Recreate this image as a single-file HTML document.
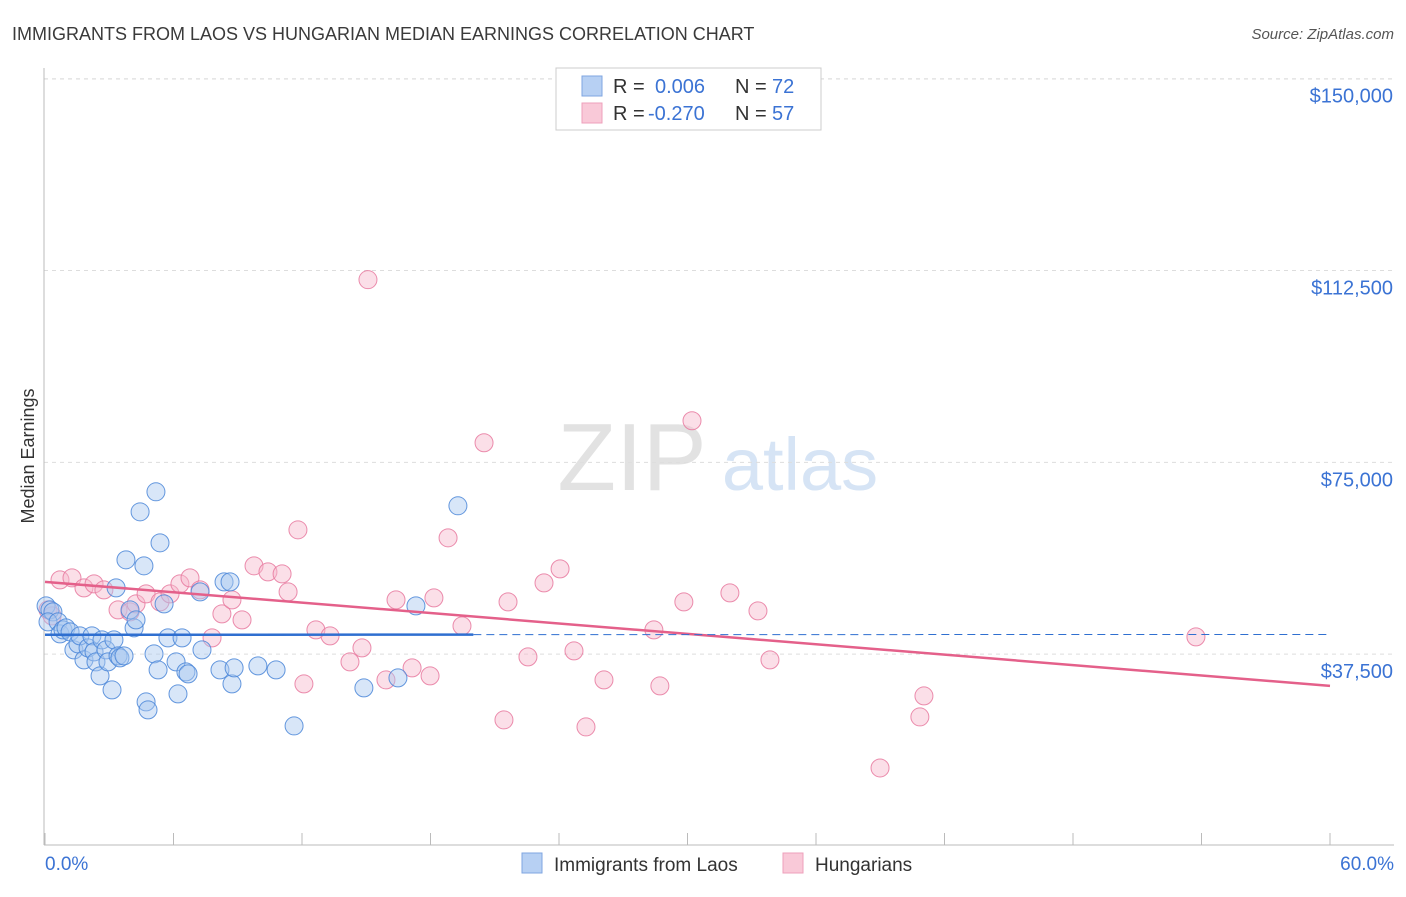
<!DOCTYPE html>
<html><head><meta charset="utf-8"><style>
body{margin:0;background:#fff;font-family:"Liberation Sans",sans-serif}
svg text{font-family:"Liberation Sans",sans-serif}
</style></head><body>
<svg id="chart" width="1406" height="892" xmlns="http://www.w3.org/2000/svg">
<text x="12" y="40" font-size="18" fill="#3a3a3a">IMMIGRANTS FROM LAOS VS HUNGARIAN MEDIAN EARNINGS CORRELATION CHART</text>
<text x="1394" y="39" font-size="15" fill="#555" text-anchor="end" font-style="italic">Source: ZipAtlas.com</text>
<g>
<text x="632" y="490" font-size="96" fill="#e2e2e2" font-family="Liberation Serif" text-anchor="middle">ZIP</text>
<text x="800" y="490" font-size="74" fill="#d6e4f5" text-anchor="middle">atlas</text>
</g>
<g id="grid"></g>
<line x1="44" y1="68" x2="44" y2="845" stroke="#bbb"/>
<line x1="44" y1="845" x2="1394" y2="845" stroke="#bbb"/>
<text x="34" y="456" font-size="18" fill="#333" text-anchor="middle" transform="rotate(-90 34 456)">Median Earnings</text>
<text x="45" y="870" font-size="19" fill="#3b73d4">0.0%</text>
<text x="1394" y="870" font-size="19" fill="#3b73d4" text-anchor="end">60.0%</text>
<g id="marks"></g>
<g>
<rect x="556" y="68" width="265" height="62" fill="#fff" stroke="#ccc"/>
<rect x="582" y="76" width="20" height="20" fill="#b7d0f3" stroke="#7fa6e0"/>
<rect x="582" y="103" width="20" height="20" fill="#f9c9d8" stroke="#eea0bb"/>
<text x="613" y="93" font-size="20" fill="#333">R = </text><text x="655" y="93" font-size="20" fill="#3b73d4">0.006</text>
<text x="735" y="93" font-size="20" fill="#333">N = </text><text x="772" y="93" font-size="20" fill="#3b73d4">72</text>
<text x="613" y="120" font-size="20" fill="#333">R = </text><text x="648" y="120" font-size="20" fill="#3b73d4">-0.270</text>
<text x="735" y="120" font-size="20" fill="#333">N = </text><text x="772" y="120" font-size="20" fill="#3b73d4">57</text>
</g>
<g>
<rect x="522" y="853" width="20" height="20" fill="#b7d0f3" stroke="#7fa6e0"/>
<text x="554" y="871" font-size="19" fill="#333">Immigrants from Laos</text>
<rect x="783" y="853" width="20" height="20" fill="#f9c9d8" stroke="#eea0bb"/>
<text x="815" y="871" font-size="19" fill="#333">Hungarians</text>
</g>
</svg>
<script>
const yTicks=[37500,75000,112500,150000];
const yTickLabels=["$37,500","$75,000","$112,500","$150,000"];
const xTicks=[0,6,12,18,24,30,36,42,48,54,60];
const laosX=[0.05,0.23,0.37,0.14,0.61,0.70,0.84,0.98,1.17,1.35,1.54,1.63,1.82,2.01,2.19,2.29,2.38,2.57,2.66,2.85,2.94,3.13,3.22,3.32,3.41,3.50,3.69,3.78,3.97,4.16,4.25,4.44,4.62,4.72,4.81,5.09,5.18,5.28,5.37,5.56,5.74,6.12,6.21,6.40,6.58,6.68,7.24,7.33,8.17,8.36,8.64,8.73,8.83,9.94,10.79,11.63,14.89,16.48,17.32,19.28];
const laosY=[46944,46162,45771,43815,43815,41468,42250,42641,41858,38338,39511,41076,36382,38729,41076,37946,35990,33252,40294,38338,35990,30514,40294,50465,37164,36773,37164,55942,46162,42641,44206,65330,54768,28166,26602,37555,69242,34426,59267,47335,40685,35990,29731,40685,34034,33643,49682,38338,34426,51638,51638,31687,34817,35208,34426,23472,30905,32861,46944,66504];
const hunX=[0.14,0.33,0.70,1.26,1.82,2.29,2.75,3.41,3.97,4.25,4.72,5.37,5.84,6.30,6.77,7.24,7.80,8.26,8.73,9.20,9.76,10.41,11.07,11.35,11.81,12.09,12.65,13.31,14.24,14.80,15.08,15.92,16.39,17.14,17.98,18.16,18.82,19.47,20.50,21.43,21.62,22.55,23.30,24.05,24.70,25.26,26.10,28.43,28.71,29.83,30.21,31.98,33.29,33.85,38.99,40.85,41.04,53.74];
const hunY=[46162,44989,52030,52421,50465,51247,50074,46162,45771,47335,49291,47726,49291,51247,52421,50074,40685,45379,48118,44206,54768,53594,53203,49682,61810,31687,42250,41076,35990,38729,110710,32470,48118,34817,33252,48509,60245,43032,78827,24646,47726,36968,51443,54181,38142,23276,32470,42250,31296,47726,83130,49487,45966,36382,15257,25232,29340,40880];
const laosTrend=[41300,41350];
const hunTrend=[51640,31300];
const NS='http://www.w3.org/2000/svg';
const xs=v=>45+v/60*1285;
const ys=v=>846-v/150000*767.3;
function mk(tag,attrs,parent){const e=document.createElementNS(NS,tag);for(const k in attrs)e.setAttribute(k,attrs[k]);parent.appendChild(e);return e;}
const grid=document.getElementById('grid'),marks=document.getElementById('marks');
yTicks.forEach((t,i)=>{
 const l=mk('line',{x1:44,x2:1394,y1:ys(t),y2:ys(t),stroke:'#ddd','stroke-dasharray':'4,4'},grid);
 
 
 const tx=mk('text',{x:1393,y:ys(t)+24,'font-size':20,fill:'#3b73d4','text-anchor':'end'},grid);
 tx.textContent=yTickLabels[i];
 
 
});
const topGrid=mk('line',{x1:44,x2:1394,y1:79,y2:79,stroke:'#ddd','stroke-dasharray':'4,4'},grid);


xTicks.forEach(t=>{
 const l=mk('line',{x1:xs(t),x2:xs(t),y1:833,y2:845,stroke:'#bbb'},grid);
 
 
});
function dot(x,y,fill,stroke,name){
 const c=mk('circle',{cx:xs(x),cy:ys(y),r:9,fill:fill,'fill-opacity':0.45,stroke:stroke,'stroke-width':1,'stroke-opacity':0.85},marks);
 
 
}
hunX.forEach((x,i)=>dot(x,hunY[i],'#f6b8cc','#e8799f','hungarian-point'));
laosX.forEach((x,i)=>dot(x,laosY[i],'#a9c8f0','#4a86d8','laos-point'));
const pl=mk('line',{x1:xs(0),y1:ys(hunTrend[0]),x2:xs(60),y2:ys(hunTrend[1]),stroke:'#e4608a','stroke-width':2.5},marks);


const lm=v=>laosTrend[0]+(laosTrend[1]-laosTrend[0])*v/60;
const bl=mk('line',{x1:xs(0),y1:ys(lm(0)),x2:xs(20),y2:ys(lm(20)),stroke:'#2f6fd0','stroke-width':2.5},marks);


const bd=mk('line',{x1:xs(20),y1:ys(lm(20)),x2:xs(60),y2:ys(lm(60)),stroke:'#2f6fd0','stroke-width':1,'stroke-dasharray':'8,5'},marks);


</script>
</body></html>
